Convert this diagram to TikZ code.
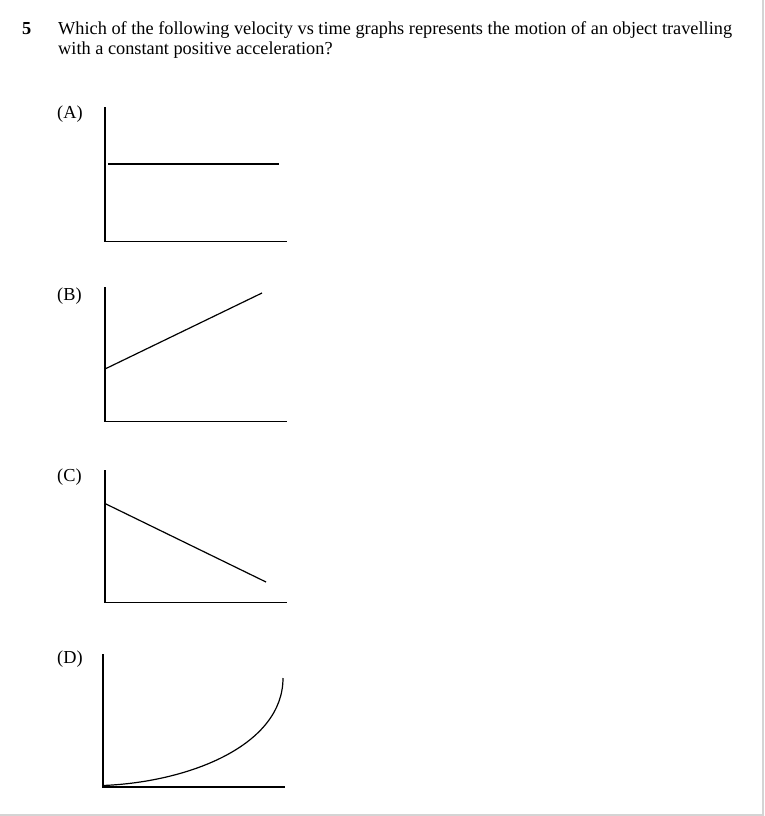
\documentclass[tikz,border=0pt]{standalone}
\usepackage{fontspec}
\setmainfont{Liberation Serif}
\begin{document}
\begin{tikzpicture}[x=1pt,y=-1pt,
  txt/.style={inner sep=0pt,anchor=base west,font=\fontsize{18.3}{20}\selectfont},
  axis/.style={line width=1.4pt,black},
  graphline/.style={line width=1.2pt,black},
  frame/.style={line width=1.6pt,black!17}]
\useasboundingbox (0,0) rectangle (764,816);
\fill[white] (0,0) rectangle (764,816);
\draw[frame] (763.2,0) -- (763.2,815.2) -- (0,815.2);
% question
\node[txt,font=\fontsize{18.3}{20}\selectfont\bfseries] (num) at (22,35) {5};
\node[txt] (q1) at (58,35) {Which of the following velocity vs time graphs represents the motion of an object travelling};
\node[txt] (q2) at (58,55) {with a constant positive acceleration?};
% labels
\node[txt] (la) at (57,118.5) {(A)};
\node[txt] (lb) at (57,300) {(B)};
\node[txt] (lc) at (57,481.5) {(C)};
\node[txt] (ld) at (57,663) {(D)};
% graph A
\draw[axis] (105,107) -- (105,241.5) -- (287,241.5);
\draw[graphline] (108,164) -- (279,164);
% graph B
\draw[axis] (105,287) -- (105,421.5) -- (287,421.5);
\draw[graphline] (105,369) -- (262,293);
% graph C
\draw[axis] (105,470) -- (105,602.5) -- (287,602.5);
\draw[graphline] (106,504) -- (266,582);
% graph D
\draw[axis] (103,654) -- (103,787) -- (285,787);
\draw[graphline] (103,785.5) .. controls (190,782) and (283,745) .. (283,678);
\end{tikzpicture}
\end{document}
